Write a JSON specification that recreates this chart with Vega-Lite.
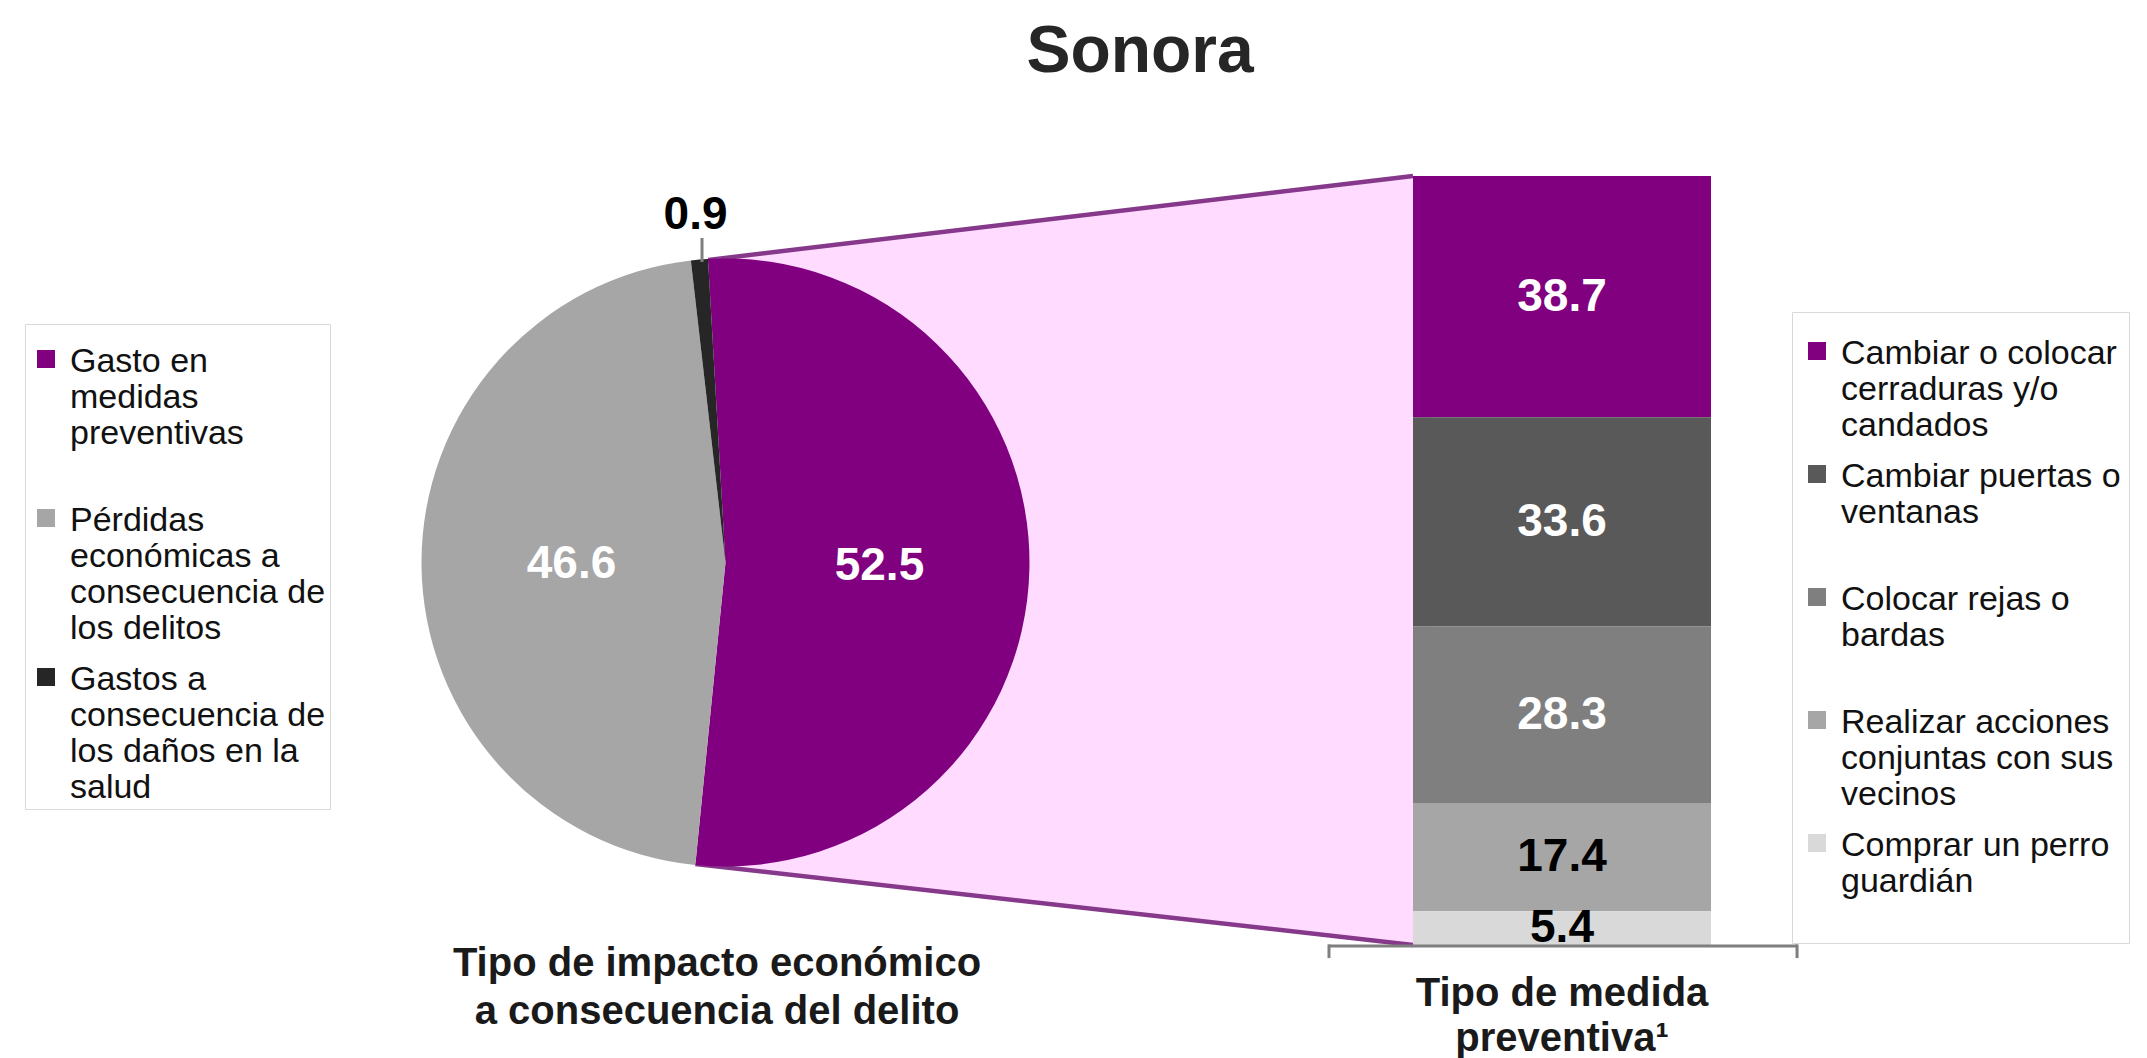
{
  "$schema": "https://vega.github.io/schema/vega-lite/v6.json",
  "width": 2147,
  "height": 1058,
  "padding": 0,
  "autosize": "none",
  "background": "#FFFFFF",
  "config": {"view": {"stroke": null}, "font": "Liberation Sans"},
  "datasets": {
    "impacto": [
      {"tipo": "Gasto en medidas preventivas", "valor": 52.5},
      {"tipo": "Pérdidas económicas a consecuencia de los delitos", "valor": 46.6},
      {"tipo": "Gastos a consecuencia de los daños en la salud", "valor": 0.9}
    ],
    "medidas": [
      {"medida": "Cambiar o colocar cerraduras y/o candados", "valor": 38.7},
      {"medida": "Cambiar puertas o ventanas", "valor": 33.6},
      {"medida": "Colocar rejas o bardas", "valor": 28.3},
      {"medida": "Realizar acciones conjuntas con sus vecinos", "valor": 17.4},
      {"medida": "Comprar un perro guardián", "valor": 5.4}
    ]
  },
  "layer": [
    {
      "data": {"name": "impacto"},
      "transform": [{"filter": "datum.tipo === 'Gasto en medidas preventivas'"}],
      "mark": {"type": "arc", "theta": 1.4521, "theta2": 1.6832, "innerRadius": 2625, "outerRadius": 3337, "fill": "#FFDBFF", "stroke": null, "clip": true},
      "encoding": {
        "x": {"datum": -88.542, "type": "quantitative", "scale": {"domain": [0, 100], "nice": false, "zero": false}, "axis": null},
        "y": {"datum": 60.031, "type": "quantitative", "scale": {"domain": [-18.133, 151.64], "nice": false, "zero": false}, "axis": null}
      }
    },
    {
      "data": {"name": "impacto"},
      "transform": [{"filter": "datum.tipo === 'Gasto en medidas preventivas'"}],
      "mark": {"type": "rule", "color": "#86398A", "strokeWidth": 4.5},
      "encoding": {
        "x": {"datum": 32.981, "type": "quantitative", "scale": {"domain": [0, 100], "nice": false, "zero": false}, "axis": null},
        "y": {"datum": 109.92, "type": "quantitative", "scale": {"domain": [-18.133, 151.64], "nice": false, "zero": false}, "axis": null},
        "x2": {"datum": 65.813},
        "y2": {"datum": 123.4}
      }
    },
    {
      "data": {"name": "impacto"},
      "transform": [{"filter": "datum.tipo === 'Gasto en medidas preventivas'"}],
      "mark": {"type": "rule", "color": "#86398A", "strokeWidth": 4.5},
      "encoding": {
        "x": {"datum": 32.389, "type": "quantitative", "scale": {"domain": [0, 100], "nice": false, "zero": false}, "axis": null},
        "y": {"datum": 12.998, "type": "quantitative", "scale": {"domain": [-18.133, 151.64], "nice": false, "zero": false}, "axis": null},
        "x2": {"datum": 65.813},
        "y2": {"datum": 0}
      }
    },
    {
      "data": {"name": "impacto"},
      "transform": [{"stack": "valor", "groupby": [], "sort": [{"field": "valor", "order": "descending"}], "as": ["v0", "v1"]}],
      "mark": {"type": "arc", "outerRadius": 304, "stroke": null},
      "encoding": {
        "x": {"datum": 33.791, "type": "quantitative", "scale": {"domain": [0, 100], "nice": false, "zero": false}, "axis": null},
        "y": {"datum": 61.379, "type": "quantitative", "scale": {"domain": [-18.133, 151.64], "nice": false, "zero": false}, "axis": null},
        "theta": {"field": "v0", "type": "quantitative", "scale": {"domain": [0, 100], "range": [-0.0576, 6.2256]}},
        "theta2": {"field": "v1"},
        "color": {
          "field": "tipo", "type": "nominal",
          "scale": {"domain": ["Gasto en medidas preventivas", "Pérdidas económicas a consecuencia de los delitos", "Gastos a consecuencia de los daños en la salud"], "range": ["#800080", "#A6A6A6", "#262626"]},
          "legend": {
            "orient": "none", "legendX": 25, "legendY": 324, "title": null,
            "symbolType": "M-1,0.556H1V2.556H-1Z", "symbolSize": 324, "symbolStrokeWidth": 0,
            "labelFont": "Liberation Sans", "labelFontSize": 34, "labelColor": "#111111", "labelLimit": 0,
            "labelBaseline": "top", "labelOffset": 7,
            "padding": 4, "rowPadding": 0, "strokeColor": "#D9D9D9",
            "encode": {"labels": {"lineHeight": {"value": 35}}},
            "labelExpr": "datum.label == 'Gasto en medidas preventivas' ? ['Gasto en', 'medidas', 'preventivas', ''] : datum.label == 'Pérdidas económicas a consecuencia de los delitos' ? ['Pérdidas', 'económicas a', 'consecuencia de', 'los delitos'] : ['Gastos a', 'consecuencia de', 'los daños en la', 'salud']"
          }
        }
      }
    },
    {
      "data": {"name": "impacto"},
      "transform": [
        {"stack": "valor", "groupby": [], "sort": [{"field": "valor", "order": "descending"}], "as": ["v0", "v1"]},
        {"calculate": "(datum.v0 + datum.v1) / 2", "as": "vm"},
        {"filter": "datum.valor > 5"}
      ],
      "mark": {"type": "text", "radius": 154, "fontSize": 46, "fontWeight": "bold", "color": "#FFFFFF", "align": "center", "baseline": "middle"},
      "encoding": {
        "x": {"datum": 33.791, "type": "quantitative", "scale": {"domain": [0, 100], "nice": false, "zero": false}, "axis": null},
        "y": {"datum": 61.379, "type": "quantitative", "scale": {"domain": [-18.133, 151.64], "nice": false, "zero": false}, "axis": null},
        "theta": {"field": "vm", "type": "quantitative", "scale": {"domain": [0, 100], "range": [-0.0576, 6.2256]}},
        "text": {"field": "valor", "type": "quantitative", "format": ".1f"}
      }
    },
    {
      "data": {"name": "impacto"},
      "transform": [
        {"stack": "valor", "groupby": [], "sort": [{"field": "valor", "order": "descending"}], "as": ["v0", "v1"]},
        {"calculate": "(datum.v0 + datum.v1) / 2", "as": "vm"},
        {"filter": "datum.valor < 5"}
      ],
      "mark": {"type": "text", "radius": 349, "fontSize": 46, "fontWeight": "bold", "color": "#000000", "align": "center", "baseline": "middle"},
      "encoding": {
        "x": {"datum": 33.791, "type": "quantitative", "scale": {"domain": [0, 100], "nice": false, "zero": false}, "axis": null},
        "y": {"datum": 61.379, "type": "quantitative", "scale": {"domain": [-18.133, 151.64], "nice": false, "zero": false}, "axis": null},
        "theta": {"field": "vm", "type": "quantitative", "scale": {"domain": [0, 100], "range": [-0.0576, 6.2256]}},
        "text": {"field": "valor", "type": "quantitative", "format": ".1f"}
      }
    },
    {
      "data": {"name": "impacto"},
      "transform": [{"filter": "datum.valor < 5"}],
      "mark": {"type": "rule", "color": "#7F7F7F", "strokeWidth": 3},
      "encoding": {
        "x": {"datum": 32.697, "type": "quantitative", "scale": {"domain": [0, 100], "nice": false, "zero": false}, "axis": null},
        "y": {"datum": 113.45, "type": "quantitative", "scale": {"domain": [-18.133, 151.64], "nice": false, "zero": false}, "axis": null},
        "y2": {"datum": 109.6}
      }
    },
    {
      "data": {"name": "medidas"},
      "transform": [{"stack": "valor", "groupby": [], "sort": [{"field": "valor", "order": "ascending"}], "as": ["v0", "v1"]}],
      "mark": {"type": "rect", "stroke": null},
      "encoding": {
        "x": {"datum": 65.813, "type": "quantitative", "scale": {"domain": [0, 100], "nice": false, "zero": false}, "axis": null},
        "x2": {"datum": 79.693},
        "y": {"field": "v0", "type": "quantitative", "scale": {"domain": [-18.133, 151.64], "nice": false, "zero": false}, "axis": null},
        "y2": {"field": "v1"},
        "color": {
          "field": "medida", "type": "nominal",
          "scale": {"domain": ["Cambiar o colocar cerraduras y/o candados", "Cambiar puertas o ventanas", "Colocar rejas o bardas", "Realizar acciones conjuntas con sus vecinos", "Comprar un perro guardián"], "range": ["#800080", "#595959", "#7F7F7F", "#A6A6A6", "#D9D9D9"]},
          "legend": {
            "orient": "none", "legendX": 1792, "legendY": 312, "title": null,
            "symbolType": "M-1,0.556H1V2.556H-1Z", "symbolSize": 324, "symbolStrokeWidth": 0,
            "labelFont": "Liberation Sans", "labelFontSize": 34, "labelColor": "#111111", "labelLimit": 0,
            "labelBaseline": "top", "labelOffset": 7,
            "padding": 8, "rowPadding": 0, "strokeColor": "#D9D9D9",
            "encode": {"labels": {"lineHeight": {"value": 37}}},
            "labelExpr": "datum.label == 'Cambiar o colocar cerraduras y/o candados' ? ['Cambiar o colocar', 'cerraduras y/o', 'candados'] : datum.label == 'Cambiar puertas o ventanas' ? ['Cambiar puertas o', 'ventanas', ''] : datum.label == 'Colocar rejas o bardas' ? ['Colocar rejas o', 'bardas', ''] : datum.label == 'Realizar acciones conjuntas con sus vecinos' ? ['Realizar acciones', 'conjuntas con sus', 'vecinos'] : ['Comprar un perro', 'guardián', '']"
          }
        }
      }
    },
    {
      "data": {"name": "medidas"},
      "transform": [
        {"stack": "valor", "groupby": [], "sort": [{"field": "valor", "order": "ascending"}], "as": ["v0", "v1"]},
        {"calculate": "(datum.v0 + datum.v1) / 2", "as": "vm"}
      ],
      "mark": {"type": "text", "fontSize": 46, "fontWeight": "bold", "align": "center", "baseline": "middle"},
      "encoding": {
        "x": {"datum": 72.753, "type": "quantitative", "scale": {"domain": [0, 100], "nice": false, "zero": false}, "axis": null},
        "y": {"field": "vm", "type": "quantitative", "scale": {"domain": [-18.133, 151.64], "nice": false, "zero": false}, "axis": null},
        "text": {"field": "valor", "type": "quantitative", "format": ".1f"},
        "color": {"condition": {"test": "datum.valor < 20", "value": "#000000"}, "value": "#FFFFFF"}
      }
    },
    {
      "data": {"name": "medidas"},
      "transform": [{"filter": "datum.valor < 6"}],
      "mark": {"type": "rule", "color": "#7F7F7F", "strokeWidth": 3},
      "encoding": {
        "x": {"datum": 61.9, "type": "quantitative", "scale": {"domain": [0, 100], "nice": false, "zero": false}, "axis": null},
        "x2": {"datum": 83.7},
        "y": {"datum": -0.16, "type": "quantitative", "scale": {"domain": [-18.133, 151.64], "nice": false, "zero": false}, "axis": null}
      }
    },
    {
      "data": {"name": "medidas"},
      "transform": [{"filter": "datum.valor < 6"}],
      "mark": {"type": "rule", "color": "#7F7F7F", "strokeWidth": 3},
      "encoding": {
        "x": {"datum": 61.9, "type": "quantitative", "scale": {"domain": [0, 100], "nice": false, "zero": false}, "axis": null},
        "y": {"datum": 0.1, "type": "quantitative", "scale": {"domain": [-18.133, 151.64], "nice": false, "zero": false}, "axis": null},
        "y2": {"datum": -2.1}
      }
    },
    {
      "data": {"name": "medidas"},
      "transform": [{"filter": "datum.valor < 6"}],
      "mark": {"type": "rule", "color": "#7F7F7F", "strokeWidth": 3},
      "encoding": {
        "x": {"datum": 83.7, "type": "quantitative", "scale": {"domain": [0, 100], "nice": false, "zero": false}, "axis": null},
        "y": {"datum": 0.1, "type": "quantitative", "scale": {"domain": [-18.133, 151.64], "nice": false, "zero": false}, "axis": null},
        "y2": {"datum": -2.1}
      }
    },
    {
      "data": {"name": "impacto"},
      "transform": [{"filter": "datum.valor < 5"}],
      "mark": {"type": "text", "fontSize": 40, "fontWeight": "bold", "color": "#1A1A1A", "align": "center", "baseline": "alphabetic", "lineHeight": 48},
      "encoding": {
        "x": {"datum": 33.396, "type": "quantitative", "scale": {"domain": [0, 100], "nice": false, "zero": false}, "axis": null},
        "y": {"datum": -4.974, "type": "quantitative", "scale": {"domain": [-18.133, 151.64], "nice": false, "zero": false}, "axis": null},
        "text": {"value": ["Tipo de impacto económico", "a consecuencia  del delito"]}
      }
    },
    {
      "data": {"name": "medidas"},
      "transform": [{"filter": "datum.valor < 6"}],
      "mark": {"type": "text", "fontSize": 40, "fontWeight": "bold", "color": "#1A1A1A", "align": "center", "baseline": "alphabetic", "lineHeight": 45},
      "encoding": {
        "x": {"datum": 72.753, "type": "quantitative", "scale": {"domain": [0, 100], "nice": false, "zero": false}, "axis": null},
        "y": {"datum": -9.789, "type": "quantitative", "scale": {"domain": [-18.133, 151.64], "nice": false, "zero": false}, "axis": null},
        "text": {"value": ["Tipo de medida", "preventiva¹"]}
      }
    },
    {
      "data": {"name": "impacto"},
      "transform": [{"filter": "datum.valor < 5"}],
      "mark": {"type": "text", "fontSize": 66, "fontWeight": "bold", "color": "#262626", "align": "center", "baseline": "alphabetic"},
      "encoding": {
        "x": {"datum": 53.1, "type": "quantitative", "scale": {"domain": [0, 100], "nice": false, "zero": false}, "axis": null},
        "y": {"datum": 140.09, "type": "quantitative", "scale": {"domain": [-18.133, 151.64], "nice": false, "zero": false}, "axis": null},
        "text": {"value": "Sonora"}
      }
    }
  ],
  "resolve": {"scale": {"color": "independent"}}
}
